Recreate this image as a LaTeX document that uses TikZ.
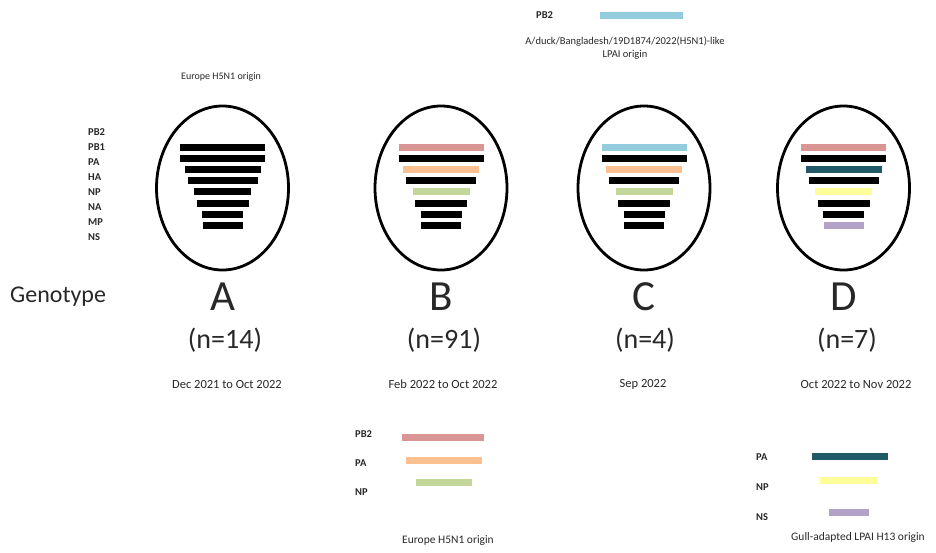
\documentclass[tikz,border=0pt]{standalone}
\usepackage{fontspec}
\setmainfont{Carlito}
\definecolor{segpink}{RGB}{218,150,148}
\definecolor{segorange}{RGB}{250,192,144}
\definecolor{seggreen}{RGB}{196,215,155}
\definecolor{segblue}{RGB}{147,205,221}
\definecolor{segteal}{RGB}{33,89,104}
\definecolor{segyellow}{RGB}{255,255,153}
\definecolor{seglilac}{RGB}{179,162,199}
\definecolor{labgray}{RGB}{40,40,40}
\tikzset{
  genoring/.style={draw,line width=2.8pt,ellipse,minimum width=132pt,minimum height=164pt,inner sep=0pt},
  segbar/.style={line width=7pt},
  seglab/.style={font=\bfseries\fontsize{10.5}{12}\selectfont,text=labgray,anchor=west,inner sep=0pt},
  origin/.style={font=\fontsize{10}{12}\selectfont,text=labgray,align=center,inner sep=0pt},
  genoname/.style={font=\fontsize{43}{45}\selectfont,text=labgray,inner sep=0pt},
  genocount/.style={font=\fontsize{28}{30}\selectfont,text=labgray,inner sep=0pt},
  genodate/.style={font=\fontsize{12.5}{14}\selectfont,text=labgray,inner sep=0pt}
}
\usetikzlibrary{shapes.geometric}
\begin{document}
\begin{tikzpicture}[x=1pt,y=-1pt]
  \useasboundingbox[fill=white] (0,0) rectangle (936,552);

  % segment names beside genotype A
  \foreach \seg [count=\i] in {PB2,PB1,PA,HA,NP,NA,MP,NS}
    \node[seglab] (lab\seg) at (88,{132+15*(\i-1)}) {\seg};
  \node[origin] (origA) at (221,77) {Europe H5N1 origin};

  % the four genotypes
  \foreach \g/\cx in {A/222.5,B/441,C/644,D/843.5}{
    \node[genoring] (ring\g) at (\cx,188) {};
    \node[genoname] (name\g) at (\cx,297) {\g};
  }
  \foreach \g/\cols in {A/{black,black,black,black,black,black,black,black},
                        B/{segpink,black,segorange,black,seggreen,black,black,black},
                        C/{segblue,black,segorange,black,seggreen,black,black,black},
                        D/{segpink,black,segteal,black,segyellow,black,black,seglilac}}{
    \foreach \w/\c [count=\i] in {42.5/1,42.5/2,38/3,35/4,28.5/5,26/6,20.5/7,20/8}{
      \pgfmathsetmacro{\yy}{147+11.2*(\i-1)}
      \foreach \col [count=\j] in \cols {
        \ifnum\j=\i
          \draw[segbar,\col] ([xshift=-\w pt]ring\g.center |- 0,\yy) -- ([xshift=\w pt]ring\g.center |- 0,\yy);
        \fi
      }
    }
  }

  \node[font=\fontsize{24}{26}\selectfont,text=labgray,anchor=west,inner sep=0pt] (geno) at (10,297) {Genotype};
  \node[genocount] (nA) at (225,340) {(n=14)};
  \node[genocount] (nB) at (444,340) {(n=91)};
  \node[genocount] (nC) at (645,340) {(n=4)};
  \node[genocount] (nD) at (847,340) {(n=7)};
  \node[genodate] (dA) at (227,384) {Dec 2021 to Oct 2022};
  \node[genodate] (dB) at (443,384) {Feb 2022 to Oct 2022};
  \node[genodate] (dC) at (643,384) {Sep 2022};
  \node[genodate] (dD) at (856,384) {Oct 2022 to Nov 2022};

  % donor of PB2 in genotype C
  \node[seglab] (topPB2) at (536,15) {PB2};
  \coordinate (topL) at (600,15);
  \coordinate (topR) at (683,15);
  \draw[segbar,segblue] (topL) -- (topR);
  \node[origin,font=\fontsize{10.5}{13}\selectfont] (origC) at (625,48) {A/duck/Bangladesh/19D1874/2022(H5N1)-like\\LPAI origin};

  % donor segments of genotype B
  \node[seglab] (legBPB2) at (355,434) {PB2};
  \node[seglab] (legBPA) at (355,463) {PA};
  \node[seglab] (legBNP) at (355,492) {NP};
  \draw[segbar,segpink] (402,437) -- (484,437);
  \draw[segbar,segorange] (406,460) -- (482,460);
  \draw[segbar,seggreen] (416,482) -- (472,482);
  \node[origin,font=\fontsize{11.5}{13}\selectfont] (origB) at (448,541) {Europe H5N1 origin};

  % donor segments of genotype D
  \node[seglab] (legDPA) at (756,457) {PA};
  \node[seglab] (legDNP) at (756,487) {NP};
  \node[seglab] (legDNS) at (756,517) {NS};
  \draw[segbar,segteal] (812,456) -- (888,456);
  \draw[segbar,segyellow] (820,480) -- (877,480);
  \draw[segbar,seglilac] (829,512) -- (869,512);
  \node[origin,font=\fontsize{11.5}{13}\selectfont] (origD) at (858,537) {Gull-adapted LPAI H13 origin};
\end{tikzpicture}
\end{document}
